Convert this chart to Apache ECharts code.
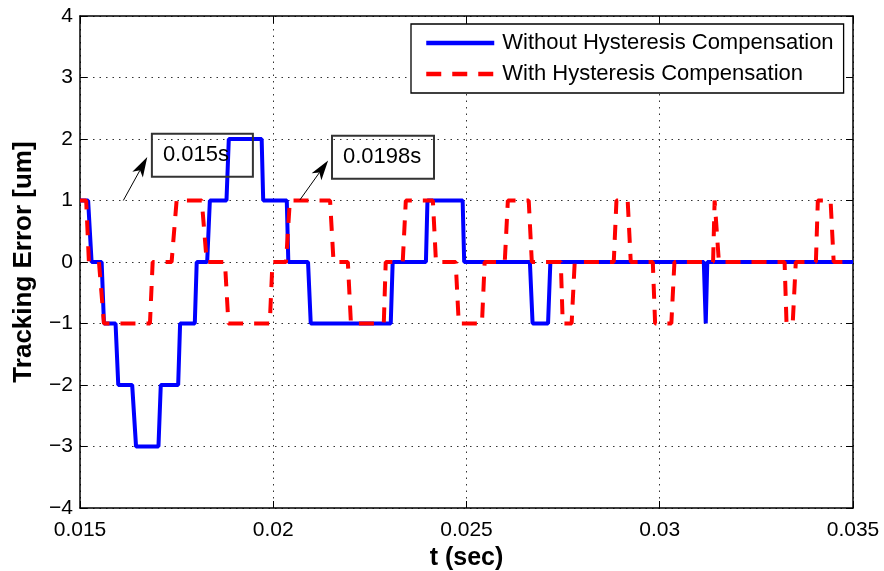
<!DOCTYPE html>
<html>
<head>
<meta charset="utf-8">
<script src="https://cdn.jsdelivr.net/npm/echarts@6/dist/echarts.min.js"></script>
<style>
  html, body { margin: 0; padding: 0; background: #fff; }
  #chart { width: 884px; height: 571px; }
</style>
</head>
<body>
<div id="chart"></div>
<script>
// 无补偿：时间(s) 与 误差(um)
const tBlue = [0.01500, 0.01521, 0.01530, 0.01556, 0.01562, 0.01592, 0.01599, 0.01635, 0.01645, 0.01703,
  0.01709, 0.01754, 0.01759, 0.01797, 0.01802, 0.01829, 0.01836, 0.01879, 0.01885, 0.01970,
  0.01974, 0.02035, 0.02039, 0.02090, 0.02097, 0.02304, 0.02309, 0.02395, 0.02399, 0.02490,
  0.02494, 0.02664, 0.02671, 0.02711, 0.02717, 0.03114, 0.03119, 0.03123, 0.03500];
const eBlue = [1, 1, 0, 0, -1, -1, -2, -2, -3, -3,
  -2, -2, -1, -1, 0, 0, 1, 1, 2, 2,
  1, 1, 0, 0, -1, -1, 0, 0, 1, 1,
  0, 0, -1, -1, 0, 0, -1, 0, 0];

// 有补偿
const tRed = [0.01500, 0.01516, 0.01523, 0.01549, 0.01562, 0.01681, 0.01688, 0.01737, 0.01750, 0.01815,
  0.01828, 0.01875, 0.01884, 0.01991, 0.01998, 0.02033, 0.02043, 0.02147, 0.02156, 0.02193,
  0.02201, 0.02286, 0.02291, 0.02335, 0.02343, 0.02413, 0.02421, 0.02472, 0.02480, 0.02540,
  0.02547, 0.02599, 0.02607, 0.02661, 0.02669, 0.02744, 0.02749, 0.02772, 0.02780, 0.02881,
  0.02888, 0.02917, 0.02925, 0.02982, 0.02988, 0.03030, 0.03038, 0.03138, 0.03142, 0.03147,
  0.03153, 0.03323, 0.03328, 0.03344, 0.03352, 0.03404, 0.03409, 0.03442, 0.03450, 0.03500];
const eRed = [1, 1, 0, 0, -1, -1, 0, 0, 1, 1,
  0, 0, -1, -1, 0, 0, 1, 1, 0, 0,
  -1, -1, 0, 0, 1, 1, 0, 0, -1, -1,
  0, 0, 1, 1, 0, 0, -1, -1, 0, 0,
  1, 1, 0, 0, -1, -1, 0, 0, 1, 1,
  0, 0, -1, -1, 0, 0, 1, 1, 0, 0];

const seriesNames = ['Without Hysteresis Compensation', 'With Hysteresis Compensation'];

// 标注：文本框左上角 与 箭头起止（数据坐标）
const noteText = ['0.015s', '0.0198s'];
const noteBoxT = [0.01686, 0.02152];
const noteBoxE = [2.086, 2.054];
const noteBoxW = [79, 80];
const arrowFrom = [[0.01612, 1.00], [0.02069, 1.01]];
const arrowTo = [[0.01674, 1.707], [0.02142, 1.652]];

const FONT = '"Liberation Sans", Arial, Helvetica, sans-serif';

function pairs(t, e) {
  return t.map((v, i) => [v, e[i]]);
}

let myChart = echarts.init(document.getElementById('chart'));

let option = {
  animation: false,
  textStyle: { fontFamily: FONT },
  grid: { left: 80, right: 31, top: 16, bottom: 63, outerBoundsMode: 'none', containLabel: false },
  legend: {
    data: seriesNames,
    orient: 'vertical',
    left: 411,
    top: 24,
    padding: [8, 10, 8, 13],
    itemGap: 9,
    itemWidth: 68,
    itemHeight: 4,
    itemStyle: { opacity: 0 },
    lineStyle: { width: 4.5 },
    backgroundColor: '#fff',
    borderColor: '#000',
    borderWidth: 1.3,
    borderRadius: 0,
    textStyle: { fontSize: 22, lineHeight: 22, color: '#000', fontFamily: FONT, padding: [0, 0, 0, 3] }
  },
  xAxis: [{
    type: 'value',
    min: 0.015,
    max: 0.035,
    interval: 0.005,
    name: 't (sec)',
    nameLocation: 'middle',
    nameGap: 38,
    nameTextStyle: { fontSize: 25, fontWeight: 'bold', color: '#000', fontFamily: FONT },
    axisLine: { onZero: false, lineStyle: { color: '#000', width: 1.5 } },
    axisTick: { inside: true, length: 7, lineStyle: { color: '#000' } },
    axisLabel: {
      fontSize: 21, color: '#000', margin: 12,
      formatter: v => String(parseFloat(v.toFixed(4)))
    },
    splitLine: { show: true, lineStyle: { color: '#333', type: [1.5, 5], width: 1 } }
  }, {
    type: 'value',
    position: 'top',
    min: 0.015,
    max: 0.035,
    interval: 0.005,
    axisLine: { onZero: false, lineStyle: { color: '#000', width: 1.5 } },
    axisTick: { inside: true, length: 7, lineStyle: { color: '#000' } },
    axisLabel: { show: false },
    splitLine: { show: false }
  }],
  yAxis: [{
    type: 'value',
    min: -4,
    max: 4,
    interval: 1,
    name: 'Tracking Error [um]',
    nameLocation: 'middle',
    nameGap: 43,
    nameTextStyle: { fontSize: 26, fontWeight: 'bold', color: '#000', fontFamily: FONT },
    axisLine: { onZero: false, lineStyle: { color: '#000', width: 1.5 } },
    axisTick: { inside: true, length: 7, lineStyle: { color: '#000' } },
    axisLabel: {
      fontSize: 21, color: '#000', margin: 7,
      formatter: v => (v < 0 ? '\u2212' + (-v) : String(v))
    },
    splitLine: { show: true, lineStyle: { color: '#333', type: [1.5, 5], width: 1 } }
  }, {
    type: 'value',
    position: 'right',
    min: -4,
    max: 4,
    interval: 1,
    axisLine: { onZero: false, lineStyle: { color: '#000', width: 1.5 } },
    axisTick: { inside: true, length: 7, lineStyle: { color: '#000' } },
    axisLabel: { show: false },
    splitLine: { show: false }
  }],
  series: [
    {
      name: seriesNames[0],
      type: 'line',
      symbol: 'none',
      itemStyle: { color: '#0000ff' },
      lineStyle: { color: '#0000ff', width: 4 },
      data: pairs(tBlue, eBlue),
      z: 3
    },
    {
      name: seriesNames[1],
      type: 'line',
      symbol: 'none',
      itemStyle: { color: '#ff0000' },
      lineStyle: { color: '#ff0000', width: 4, type: [15, 11] },
      data: pairs(tRed, eRed),
      z: 4
    },
    {
      name: 'notes',
      type: 'line',
      data: [],
      silent: true,
      z: 5,
      markPoint: {
        silent: true,
        animation: false,
        symbol: 'circle',
        symbolSize: 0,
        data: noteText.map((s, i) => ({
          coord: [noteBoxT[i], noteBoxE[i]],
          value: s,
          label: {
            show: true,
            position: [0, 0],
            align: 'left',
            verticalAlign: 'top',
            formatter: s,
            width: noteBoxW[i],
            fontSize: 22,
            lineHeight: 22,
            color: '#000',
            fontFamily: FONT,
            padding: [10, 11, 11, 11],
            borderColor: '#333',
            borderWidth: 1,
            backgroundColor: 'transparent'
          }
        }))
      }
    }
  ]
};

myChart.setOption(option);

// 箭头：用 convertToPixel 把数据坐标换成像素再画
let arrows = [];
arrowFrom.forEach((p, i) => {
  let a = myChart.convertToPixel({ gridIndex: 0 }, p);
  let b = myChart.convertToPixel({ gridIndex: 0 }, arrowTo[i]);
  let dx = b[0] - a[0], dy = b[1] - a[1];
  let len = Math.sqrt(dx * dx + dy * dy);
  let ux = dx / len, uy = dy / len;
  let nx = -uy, ny = ux;
  let headLen = 20, headW = 6, notch = 15;
  let base = [b[0] - ux * headLen, b[1] - uy * headLen];
  let mid = [b[0] - ux * notch, b[1] - uy * notch];
  arrows.push({
    type: 'polyline',
    silent: true,
    z: 10,
    shape: { points: [a, mid] },
    style: { stroke: '#000', lineWidth: 1, fill: null }
  });
  arrows.push({
    type: 'polygon',
    silent: true,
    z: 10,
    shape: {
      points: [b, [base[0] + nx * headW, base[1] + ny * headW], mid, [base[0] - nx * headW, base[1] - ny * headW]]
    },
    style: { fill: '#000' }
  });
});
myChart.setOption({ graphic: arrows });
</script>
</body>
</html>
